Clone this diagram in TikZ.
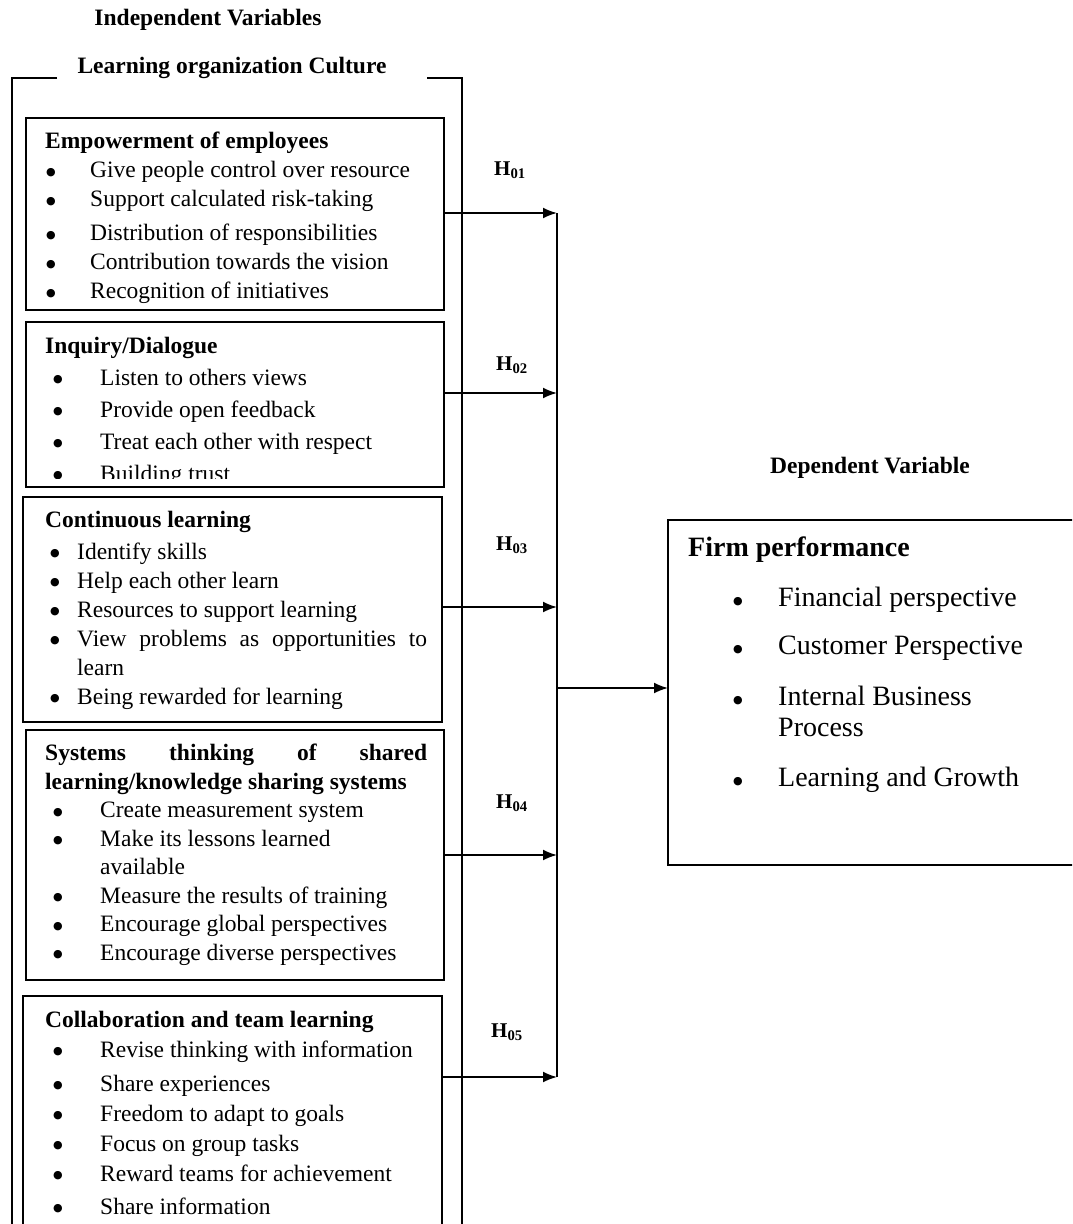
\documentclass[tikz,border=0pt]{standalone}
\usepackage{fontspec}
\setmainfont{Liberation Serif}
\newfontfamily\dotfont{DejaVu Sans}
\usetikzlibrary{arrows.meta}
\newcommand{\bigbul}{\raisebox{2.6pt}{\dotfont\fontsize{11}{11}\selectfont ●}}
\newcommand{\li}[1]{\hspace*{\bind}\makebox[\bgap][l]{\bigbul}#1}
\newcommand{\licont}[1]{\hspace*{\bind}\hspace*{\bgap}#1}
\def\bind{0pt}\def\bgap{40pt}

\begin{document}
\begin{tikzpicture}[x=1pt,y=-1pt,
varbox/.style={draw,rectangle,line width=1.8pt,anchor=north west,inner sep=0pt,outer sep=0pt},
listtext/.style={anchor=north west,align=left,inner sep=0pt,font=\fontsize{23.5}{#1}\selectfont},
head/.style={font=\fontsize{23.5}{28}\selectfont\bfseries,inner sep=0pt},
hyp/.style={font=\fontsize{21}{24}\selectfont\bfseries,inner sep=0pt},
link/.style={line width=1.8pt,-{Latex[length=14pt,width=11pt]}}]

\useasboundingbox (0,0) rectangle (1072,1224);
\clip (0,0) rectangle (1072,1224);

\node[head] (indep) at (208,20) {Independent Variables};
\node[head] (loc) at (232,68) {Learning organization Culture};
\draw[line width=1.8pt] (57,78) -| (12,1240);
\draw[line width=1.8pt] (427,78) -| (462,1240);

% the five culture boxes
\node[varbox,minimum width=418pt,minimum height=192pt] (emp) at (26,118) {};
\node[varbox,minimum width=418pt,minimum height=165pt] (inq) at (26,322) {};
\node[varbox,minimum width=419pt,minimum height=225pt] (cont) at (23,497) {};
\node[varbox,minimum width=418pt,minimum height=250pt] (sys) at (26,730) {};
\node[varbox,minimum width=419pt,minimum height=260pt] (coll) at (23,996) {};

\def\bind{1pt}\def\bgap{44pt}
\node[listtext=29pt] (empT) at (45,132) {\textbf{Empowerment of employees}\\
\li{Give people control over resource}\\
\li{Support calculated risk-taking}\\[5pt]
\li{Distribution of responsibilities}\\
\li{Contribution towards the vision}\\
\li{Recognition of initiatives}};

\begin{scope}
\clip (26,322) rectangle (444,478);
\def\bind{8pt}\def\bgap{47pt}
\node[listtext=32pt] (inqT) at (45,337) {\textbf{Inquiry/Dialogue}\\
\li{Listen to others views}\\
\li{Provide open feedback}\\
\li{Treat each other with respect}\\
\li{Building trust}};
\end{scope}

\def\bind{5pt}\def\bgap{27pt}
\node[listtext=29pt] (contT) at (45,511) {\textbf{Continuous learning}\\[3pt]
\li{Identify skills}\\
\li{Help each other learn}\\
\li{Resources to support learning}\\
\li{\makebox[350pt][s]{View problems as opportunities to}}\\
\licont{learn}\\
\li{Being rewarded for learning}};

\def\bind{8pt}\def\bgap{47pt}
\node[listtext=28.5pt] (sysT) at (45,744) {\textbf{\makebox[382pt][s]{Systems thinking of shared}}\\
\textbf{learning/knowledge sharing systems}\\
\li{Create measurement system}\\
\li{Make its lessons learned}\\
\licont{available}\\
\li{Measure the results of training}\\
\li{Encourage global perspectives}\\
\li{Encourage diverse perspectives}};

\node[listtext=30pt] (collT) at (45,1011) {\textbf{Collaboration and team learning}\\
\li{Revise thinking with information}\\[4pt]
\li{Share experiences}\\
\li{Freedom to adapt to goals}\\
\li{Focus on group tasks}\\
\li{Reward teams for achievement}\\[3pt]
\li{Share information}};

% hypotheses
\node[hyp] (h1) at (510,170) {H\textsubscript{01}};
\node[hyp] (h2) at (512,365) {H\textsubscript{02}};
\node[hyp] (h3) at (512,545) {H\textsubscript{03}};
\node[hyp] (h4) at (512,803) {H\textsubscript{04}};
\node[hyp] (h5) at (507,1032) {H\textsubscript{05}};

\coordinate (j1) at (557,213);
\coordinate (j2) at (557,393);
\coordinate (j3) at (557,607);
\coordinate (j4) at (557,855);
\coordinate (j5) at (557,1077);
\coordinate (jm) at (557,688);

% dependent side
\node[head] (dep) at (870,468) {Dependent Variable};
\node[varbox,minimum width=420pt,minimum height=345pt] (firm) at (668,520) {};
\def\bind{45pt}\def\bgap{45pt}
\node[anchor=north west,align=left,inner sep=0pt,font=\fontsize{28}{31}\selectfont] (firmT) at (688,537) {\textbf{Firm performance}\\[19pt]
\li{Financial perspective}\\[17pt]
\li{Customer Perspective}\\[20pt]
\li{Internal Business}\\
\licont{Process}\\[19pt]
\li{Learning and Growth}};

\draw[link] (emp.east |- j1) -- (j1);
\draw[link] (inq.east |- j2) -- (j2);
\draw[link] (cont.east |- j3) -- (j3);
\draw[link] (sys.east |- j4) -- (j4);
\draw[link] (coll.east |- j5) -- (j5);
\draw[line width=1.8pt] (j1) -- (j5);
\draw[link] (jm) -- (firm.west |- jm);

\end{tikzpicture}
\end{document}
